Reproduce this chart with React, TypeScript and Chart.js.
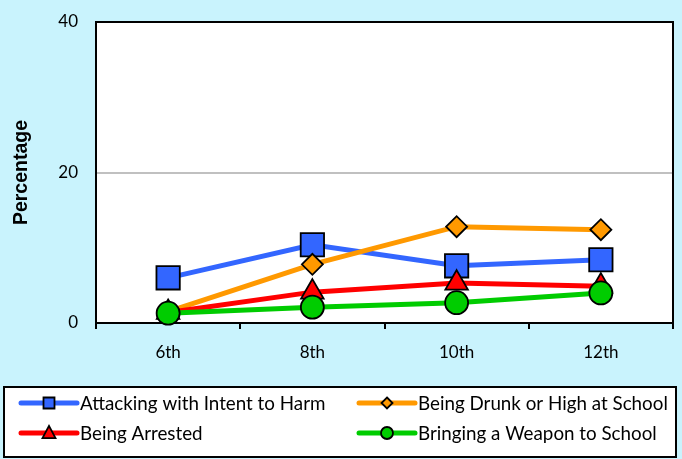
import React, { useEffect, useRef } from 'react';
import { Chart, registerables } from 'chart.js';
Chart.register(...registerables);

const grades = ['6th', '8th', '10th', '12th'];
const attacking = [6.0, 10.4, 7.6, 8.4];
const drunkHigh = [1.5, 7.8, 12.8, 12.4];
const arrested = [1.4, 4.1, 5.3, 4.9];
const weapon = [1.3, 2.1, 2.7, 4.0];
const seriesNames = [
  'Attacking with Intent to Harm',
  'Being Drunk or High at School',
  'Being Arrested',
  'Bringing a Weapon to School',
];
const yMin = 0;
const yMax = 40;
const yStep = 20;

const BG = '#C9F3FD';
const COLORS = ['#3366FF', '#FF9900', '#FF0000', '#00CC00'];
const SHAPES = ['rect', 'rectRot', 'triangle', 'circle'];
const FONT = 'Lato, "DejaVu Sans", sans-serif';

function drawMarker(ctx: CanvasRenderingContext2D, shape: string, x: number, y: number, s: number) {
  ctx.beginPath();
  if (shape === 'rect') {
    ctx.rect(x - s, y - s, 2 * s, 2 * s);
  } else if (shape === 'rectRot') {
    ctx.moveTo(x, y - s);
    ctx.lineTo(x + s, y);
    ctx.lineTo(x, y + s);
    ctx.lineTo(x - s, y);
    ctx.closePath();
  } else if (shape === 'triangle') {
    ctx.moveTo(x, y - s * 1.1);
    ctx.lineTo(x + s, y + s * 0.8);
    ctx.lineTo(x - s, y + s * 0.8);
    ctx.closePath();
  } else {
    ctx.arc(x, y, s, 0, Math.PI * 2);
  }
  ctx.fill();
  ctx.stroke();
}

const bgPlugin = {
  id: 'bgPlugin',
  beforeDraw(chart: any) {
    const { ctx, chartArea } = chart;
    ctx.save();
    ctx.fillStyle = BG;
    ctx.fillRect(0, 0, chart.width, chart.height);
    ctx.fillStyle = '#FFFFFF';
    ctx.fillRect(chartArea.left, chartArea.top, chartArea.right - chartArea.left, chartArea.bottom - chartArea.top);
    ctx.restore();
  },
  beforeDatasetsDraw(chart: any) {
    const { ctx, chartArea } = chart;
    ctx.save();
    ctx.strokeStyle = '#000000';
    ctx.lineWidth = 2;
    ctx.strokeRect(chartArea.left, chartArea.top, chartArea.right - chartArea.left, chartArea.bottom - chartArea.top);
    ctx.restore();
  },
  afterDraw(chart: any) {
    const ctx: CanvasRenderingContext2D = chart.ctx;
    ctx.save();
    ctx.fillStyle = '#FFFFFF';
    ctx.fillRect(4, 387, 672, 70);
    ctx.strokeStyle = '#000000';
    ctx.lineWidth = 2;
    ctx.strokeRect(4, 387, 672, 70);
    const lineX = [21, 359];
    const textX = [80, 418];
    const rowY = [403, 433];
    const markerSize = [5.5, 5.5, 6.5, 6];
    chart.data.datasets.forEach((ds: any, i: number) => {
      const col = i % 2;
      const row = Math.floor(i / 2);
      const y = rowY[row];
      ctx.strokeStyle = COLORS[i];
      ctx.lineWidth = 5;
      ctx.lineCap = 'round';
      ctx.beginPath();
      ctx.moveTo(lineX[col], y);
      ctx.lineTo(lineX[col] + 56, y);
      ctx.stroke();
      ctx.lineCap = 'butt';
      ctx.fillStyle = COLORS[i];
      ctx.strokeStyle = '#000000';
      ctx.lineWidth = 1.8;
      drawMarker(ctx, SHAPES[i], lineX[col] + 28, y, markerSize[i]);
      ctx.fillStyle = '#000000';
      ctx.font = `18.8px ${FONT}`;
      ctx.textBaseline = 'middle';
      ctx.textAlign = 'left';
      ctx.fillText(ds.label, textX[col], y + 1);
    });
    ctx.restore();
  },
};

export default function App() {
  const ref = useRef<HTMLCanvasElement>(null);
  useEffect(() => {
    document.body.style.margin = '0';
    const canvas = ref.current!;
    const mk = (i: number, data: number[], r: number, order: number) => ({
      label: seriesNames[i],
      data,
      borderColor: COLORS[i],
      backgroundColor: COLORS[i],
      borderWidth: 5,
      pointStyle: SHAPES[i],
      pointRadius: r,
      pointBackgroundColor: COLORS[i],
      pointBorderColor: '#000000',
      pointBorderWidth: 1.8,
      tension: 0,
      clip: false,
      order,
    });
    const chart = new Chart(canvas, {
      type: 'line',
      data: {
        labels: grades,
        datasets: [
          mk(0, attacking, 16.5, 3),
          mk(1, drunkHigh, 10.5, 2),
          mk(2, arrested, 13, 1),
          mk(3, weapon, 11.5, 0),
        ],
      },
      plugins: [bgPlugin],
      options: {
        responsive: false,
        animation: false,
        layout: { autoPadding: false, padding: { top: 22, right: 9, bottom: 86, left: 0 } },
        plugins: { legend: { display: false }, tooltip: { enabled: false } },
        scales: {
          x: {
            offset: true,
            grid: {
              offset: true,
              drawOnChartArea: false,
              drawTicks: true,
              tickLength: 6,
              color: '#000000',
              lineWidth: 2,
            },
            border: { display: true, color: '#000000', width: 2 },
            ticks: { color: '#000000', font: { family: FONT, size: 17 }, padding: 13 },
            afterFit: (s: any) => {
              s.height = 50;
              s.paddingLeft = 0;
              s.paddingRight = 0;
            },
          },
          y: {
            min: yMin,
            max: yMax,
            ticks: { stepSize: yStep, color: '#000000', font: { family: FONT, size: 17 }, padding: 18 },
            grid: {
              drawTicks: false,
              color: (c: any) => (c.tick && c.tick.value === 20 ? '#C0C0C0' : 'rgba(0,0,0,0)'),
              lineWidth: 2,
            },
            border: { display: true, color: '#000000', width: 2 },
            title: {
              display: true,
              text: 'Percentage',
              color: '#000000',
              font: { family: 'Arial, "Liberation Sans", sans-serif', size: 19.5, weight: 'bold' },
              padding: { top: 10, bottom: 0 },
            },
            afterFit: (s: any) => {
              s.width = 96;
              s.paddingTop = 0;
              s.paddingBottom = 0;
            },
          },
        },
      },
    });
    return () => chart.destroy();
  }, []);
  return <canvas ref={ref} width={682} height={459} style={{ display: 'block' }} />;
}
